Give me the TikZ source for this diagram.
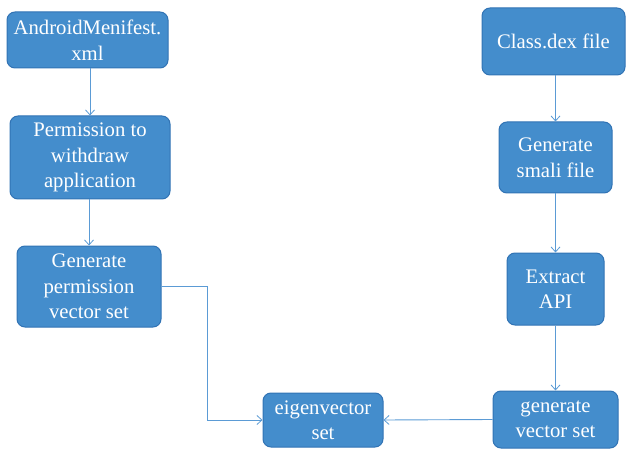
\documentclass[tikz,border=0pt]{standalone}
\usepackage{fontspec}
\setmainfont{Liberation Serif}
\usetikzlibrary{arrows.meta}
\definecolor{boxfill}{RGB}{68,141,204}
\definecolor{boxline}{RGB}{49,115,180}
\definecolor{arrowc}{RGB}{91,155,213}
\begin{document}
\begin{tikzpicture}[x=1pt,y=-1pt,
  proc/.style={draw=boxline,fill=boxfill,line width=1pt,rounded corners=8pt,
    text=white,align=center,inner sep=0pt,
    font=\fontsize{20.7}{25.5}\selectfont},
  conn/.style={draw=arrowc,line width=0.9pt,-{Straight Barb[length=5pt,width=9pt,line width=0.8pt]}}]
\useasboundingbox (0,0) rectangle (626,449);
\node[proc,minimum width=161pt,minimum height=56pt] (A) at (87.5,40) {AndroidMenifest.\\xml};
\node[proc,minimum width=160pt,minimum height=83pt] (B) at (90,157.5) {Permission to\\withdraw\\application};
\node[proc,minimum width=144pt,minimum height=81pt] (C) at (89,286.5) {Generate\\permission\\vector set};
\node[proc,minimum width=120pt,minimum height=54pt] (Eig) at (323,420) {eigenvector\\set};
\node[proc,minimum width=143pt,minimum height=67pt] (D) at (553.5,41.5) {Class.dex file};
\node[proc,minimum width=113pt,minimum height=71pt] (E) at (555.5,157.5) {Generate\\smali file};
\node[proc,minimum width=97pt,minimum height=72pt] (F) at (555.5,289) {Extract\\API};
\node[proc,minimum width=125pt,minimum height=57pt] (G) at (555.5,419.5) {generate\\vector set};
\draw[conn] (A.south -| B.north) -- (B.north);
\draw[conn] (B.south -| C.north) -- (C.north);
\draw[conn] (C.east) -- ++(46,0) |- (Eig.west);
\draw[conn] (D.south -| E.north) -- (E.north);
\draw[conn] (E.south) -- (F.north);
\draw[conn] (F.south) -- (G.north);
\draw[conn] (G.west) -- (Eig.east);
\end{tikzpicture}
\end{document}
